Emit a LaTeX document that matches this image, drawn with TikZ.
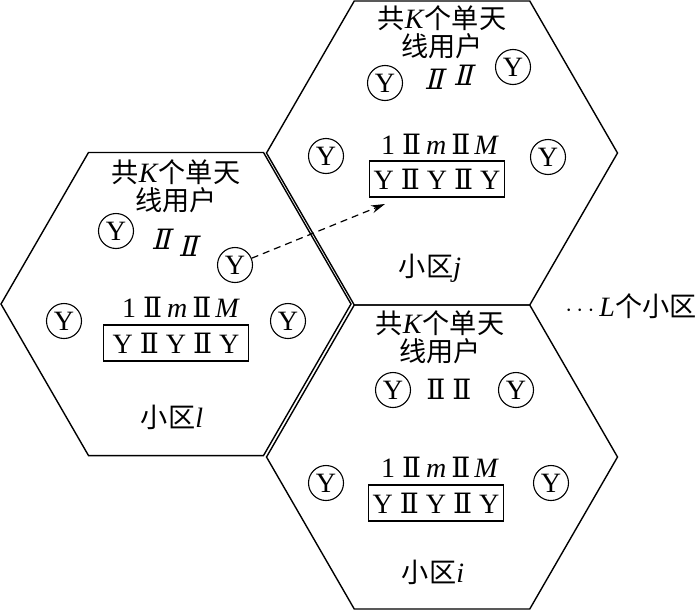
\documentclass[tikz,border=0pt]{standalone}
\usepackage{fontspec}
\setmainfont{Liberation Serif}
\newfontfamily\cjkf{Noto Sans CJK SC}[Scale=0.97]
\newfontfamily\romf{DejaVu Serif}
\newfontfamily\romfs{DejaVu Serif}[FakeSlant=0.25]
\usetikzlibrary{arrows.meta}
\newcommand\zhs[1]{{\cjkf #1}}
\newcommand\rII{{\romf Ⅱ}}
\newcommand\rIIs{{\romfs Ⅱ}}
\newcommand\antrow{Y\hspace{7pt}\rII\hspace{7pt}Y\hspace{7pt}\rII\hspace{7pt}Y}
\newcommand\idxrow{1\hspace{7pt}\rII\hspace{5pt}\textit{m}\hspace{5pt}\rII\hspace{4pt}\textit{M}}
\tikzset{
  hexline/.style={line width=1.4pt, line join=miter},
  ue/.style={circle, draw, line width=1.1pt, inner sep=0pt, minimum size=35pt},
  antbox/.style={draw, line width=1.2pt, inner xsep=9pt, inner ysep=0pt, minimum height=36pt},
  txt/.style={align=center, inner sep=0pt},
  dsh/.style={dashed, dash pattern=on 7pt off 5pt, line width=1.2pt, -{Stealth[length=14pt,width=8pt]}}
}
\begin{document}
\begin{tikzpicture}[x=1pt,y=-1pt,font=\fontsize{28}{28}\selectfont]
\useasboundingbox (0,0) rectangle (700,610);
\fill[white] (0,0) rectangle (700,610);
% hexagons
\draw[hexline] (351,304) -- (263.5,152.45) -- (88.5,152.45) -- (1,304) -- (88.5,455.55) -- (263.5,455.55) -- cycle;
\draw[hexline] (617.5,153) -- (529.75,1) -- (354.25,1) -- (266.5,153) -- (354.25,305) -- (529.75,305) -- cycle;
\draw[hexline] (617.5,457) -- (529.75,305) -- (354.25,305) -- (266.5,457) -- (354.25,609) -- (529.75,609) -- cycle;
% cell l
\node[txt] (lk) at (176,186) {\zhs{共}\textit{K}\zhs{个单天}\\\zhs{线用户}};
\node[ue] (l1) at (116,231) {Y};
\node[txt] (ld1) at (161,239) {\rIIs};
\node[txt] (ld2) at (188,246) {\rIIs};
\node[ue] (l2) at (235,265) {Y};
\node[txt] (lidx) at (181,307) {\idxrow};
\node[antbox] (lbox) at (176,343) {\antrow};
\node[ue] (l3) at (64,321) {Y};
\node[ue] (l4) at (288,321) {Y};
\node[txt] (lname) at (172,417) {\zhs{小区}\textit{l}};
% cell j
\node[txt] (jk) at (442,32) {\zhs{共}\textit{K}\zhs{个单天}\\\zhs{线用户}};
\node[ue] (j1) at (385,83) {Y};
\node[txt] (jd1) at (434,79) {\rIIs};
\node[txt] (jd2) at (463,75) {\rIIs};
\node[ue] (j2) at (513,67) {Y};
\node[txt] (jidx) at (440,144) {\idxrow};
\node[antbox, inner xsep=4pt] (jbox) at (437,179) {\antrow};
\node[ue] (j3) at (326,156) {Y};
\node[ue] (j4) at (548,157) {Y};
\node[txt] (jname) at (430,268) {\zhs{小区}\textit{j}};
% cell i
\node[txt] (ik) at (440,337) {\zhs{共}\textit{K}\zhs{个单天}\\\zhs{线用户}};
\node[ue] (i1) at (393,390) {Y};
\node[txt] (id1) at (436,389) {\rII};
\node[txt] (id2) at (462,389) {\rII};
\node[ue] (i2) at (516,390) {Y};
\node[txt] (iidx) at (440,467) {\idxrow};
\node[antbox, inner xsep=4pt] (ibox) at (436,503) {\antrow};
\node[ue] (i3) at (326,483) {Y};
\node[ue] (i4) at (551,483) {Y};
\node[txt] (iname) at (433,572) {\zhs{小区}\textit{i}};
% others
\node[txt] (Lc) at (631,306) {$\cdots$\hspace{5pt}\textit{L}\zhs{个小区}};
\coordinate (tipj) at (385,204);
\draw[dsh] (l2) -- (tipj);
\end{tikzpicture}
\end{document}
